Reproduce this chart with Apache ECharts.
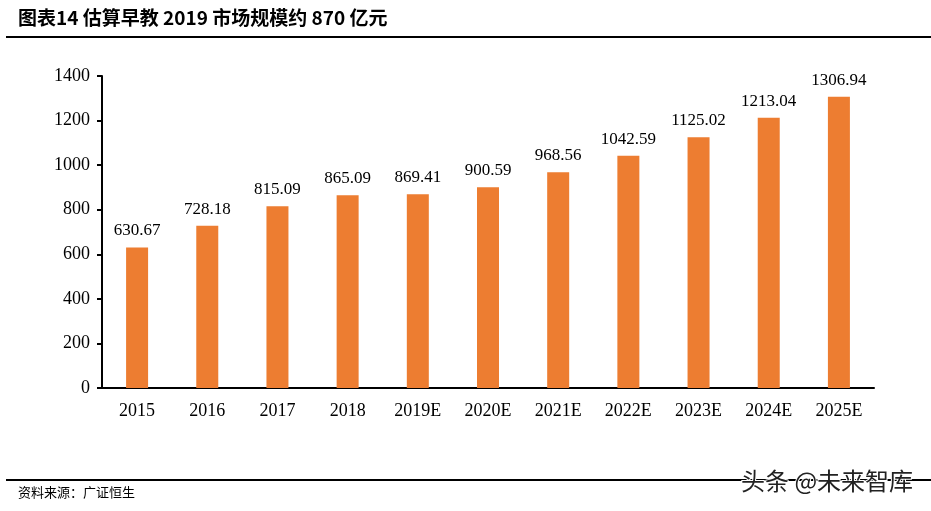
<!DOCTYPE html>
<html>
<head>
<meta charset="utf-8">
<style>
  html, body { margin: 0; padding: 0; background: #fff; }
  #chart { width: 931px; height: 511px; }
</style>
<script src="https://cdn.jsdelivr.net/npm/echarts@6/dist/echarts.min.js"></script>
</head>
<body>
<div id="chart"></div>
<script>
// Early education market size (亿元)
var years = ['2015', '2016', '2017', '2018', '2019E', '2020E', '2021E', '2022E', '2023E', '2024E', '2025E'];
var marketSize = [630.67, 728.18, 815.09, 865.09, 869.41, 900.59, 968.56, 1042.59, 1125.02, 1213.04, 1306.94];

var serif = '"Liberation Serif", "Times New Roman", serif';
var cjk = '"Noto Sans CJK SC", sans-serif';

echarts.init(document.getElementById('chart')).setOption({
    backgroundColor: '#fff',
    animation: false,
    grid: { left: 102, right: 57, top: 76, bottom: 123 },
    xAxis: {
        type: 'category',
        data: years,
        axisLine: { lineStyle: { color: '#000', width: 2 } },
        axisTick: { show: false },
        axisLabel: { color: '#000', fontFamily: serif, fontSize: 18, margin: 14 }
    },
    yAxis: {
        type: 'value',
        min: 0,
        max: 1400,
        interval: 200,
        axisLine: { show: true, lineStyle: { color: '#000', width: 2 } },
        axisTick: { show: true, length: 5, lineStyle: { color: '#000', width: 2 } },
        splitLine: { show: false },
        axisLabel: {
            color: '#000', fontFamily: serif, fontSize: 18, margin: 12,
            formatter: function(v) { return String(v); }
        }
    },
    series: [{
        type: 'bar',
        data: marketSize,
        barWidth: 22,
        itemStyle: { color: '#ED7D31' },
        label: {
            show: true,
            position: 'top',
            distance: 8,
            color: '#000',
            fontFamily: serif,
            fontSize: 17,
            formatter: function(p) { return p.value.toFixed(2); }
        }
    }],
    graphic: [
        { type: 'text', left: 18, top: 8, style: { text: '图表14 估算早教 2019 市场规模约 870 亿元', font: 'bold 19px ' + cjk, fill: '#000' } },
        { type: 'rect', shape: { x: 6, y: 36, width: 925, height: 2 }, style: { fill: '#000' } },
        { type: 'rect', shape: { x: 6, y: 479, width: 925, height: 2 }, style: { fill: '#000' } },
        { type: 'text', left: 18, top: 486, style: { text: '资料来源：广证恒生', font: '13px ' + cjk, fill: '#000' } },
        { type: 'text', left: 740, top: 468, style: { text: '头条 @未来智库', font: '24px ' + cjk, fill: '#222', stroke: '#fff', lineWidth: 2 } }
    ]
});
</script>
</body>
</html>
